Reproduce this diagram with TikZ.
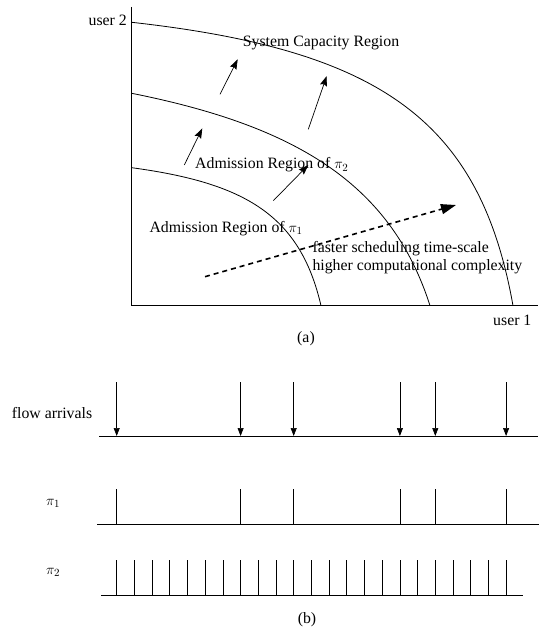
\documentclass[tikz,border=0pt]{standalone}
\usepackage{fontspec}
\setmainfont{Liberation Serif}
\usetikzlibrary{arrows.meta}
\begin{document}
\begin{tikzpicture}[x=1pt,y=-1pt,
  lbl/.style={inner sep=0pt, font=\fontsize{15.8}{18.4}\selectfont},
  small/.style={inner sep=0pt, font=\fontsize{15}{17}\selectfont},
  curve/.style={line width=0.8pt},
  axis/.style={line width=0.9pt},
  push/.style={line width=0.7pt, -{Stealth[length=10pt,width=7pt,inset=1.5pt]}},
  trend/.style={line width=1.6pt, dash pattern=on 5pt off 4pt, -{Triangle[length=15pt,width=10pt]}},
  tickline/.style={line width=0.7pt},
  arrival/.style={line width=0.7pt, -{Triangle[length=8pt,width=6pt]}}
]
\useasboundingbox (0,0) rectangle (539,631);
% ---------- (a) ----------
\coordinate (ytop) at (131.7,7);
\coordinate (origin) at (131.7,305.7);
\coordinate (xend) at (538,305.7);
\draw[axis] (ytop) -- (origin) -- (xend);
\draw[curve] (131.7,22.3) .. controls (380,50) and (480,120) .. (513,305.7);
\draw[curve] (131.7,93.3) .. controls (290,125) and (390,180) .. (430,305.7);
\draw[curve] (131.7,167.7) .. controls (245,183) and (300,215) .. (321,305.7);
\coordinate (p1s) at (220,94.3);   \coordinate (p1e) at (237.7,59.3);
\coordinate (p2s) at (308.3,129.3); \coordinate (p2e) at (326.7,76);
\coordinate (p3s) at (184.3,165);  \coordinate (p3e) at (202.3,128.3);
\coordinate (p4s) at (273.3,200.7); \coordinate (p4e) at (308.3,165);
\draw[push] (p1s) -- (p1e);
\draw[push] (p2s) -- (p2e);
\draw[push] (p3s) -- (p3e);
\draw[push] (p4s) -- (p4e);
\coordinate (ts) at (205,276.7); \coordinate (te) at (456,205);
\draw[trend] (ts) -- (te);
\node[lbl, anchor=west] (cap) at (242.7,43.3) {System Capacity Region};
\node[lbl, anchor=west] (adm2) at (195,165) {Admission Region of $\pi_2$};
\node[lbl, anchor=west] (adm1) at (149.3,228.3) {Admission Region of $\pi_1$};
\node[lbl, anchor=west, align=left] (faster) at (312.3,257.5) {faster scheduling time-scale\\higher computational complexity};
\node[lbl, anchor=east] (u2) at (127,20) {user 2};
\node[lbl, anchor=west] (u1) at (493,320) {user 1};
\node[lbl] (capa) at (306,339) {(a)};
% ---------- (b) ----------
\coordinate (fl0) at (99.3,436); \coordinate (fl1) at (538.3,436);
\coordinate (pa0) at (97.3,524); \coordinate (pa1) at (539,524);
\coordinate (pb0) at (101,595); \coordinate (pb1) at (523.3,595);
\draw[tickline] (fl0) -- (fl1);
\draw[tickline] (pa0) -- (pa1);
\draw[tickline] (pb0) -- (pb1);
\foreach \i in {0,7,10,16,18,22}{
  \coordinate (at\i) at ({116.7+17.7*\i},382);
  \coordinate (ab\i) at ({116.7+17.7*\i},436);
  \coordinate (st\i) at ({116.7+17.7*\i},489.3);
  \coordinate (sb\i) at ({116.7+17.7*\i},524);
  \draw[arrival] (at\i) -- (ab\i);
  \draw[tickline] (st\i) -- (sb\i);
}
\foreach \i in {0,...,22}{
  \coordinate (qt\i) at ({116.7+17.7*\i},560);
  \coordinate (qb\i) at ({116.7+17.7*\i},595);
  \draw[tickline] (qt\i) -- (qb\i);
}
\node[lbl, anchor=west] (flow) at (11.7,413.3) {flow arrivals};
\node[small] (pi1) at (53,503) {$\pi_1$};
\node[small] (pi2) at (53,572) {$\pi_2$};
\node[lbl] (capb) at (307,620) {(b)};
\end{tikzpicture}
\end{document}
